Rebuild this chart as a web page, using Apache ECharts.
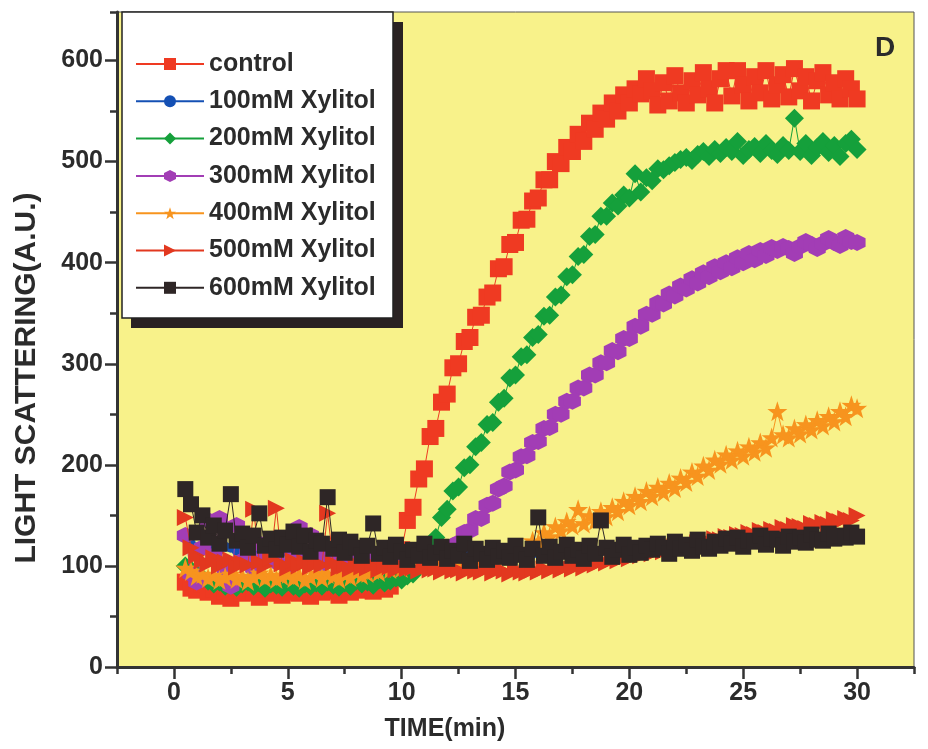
<!DOCTYPE html>
<html><head><meta charset="utf-8">
<script src="https://cdn.jsdelivr.net/npm/echarts@6/dist/echarts.min.js"></script>
<style>html,body{margin:0;padding:0;background:#fff}#c{width:928px;height:749px}</style>
</head><body><div id="c"></div>
<script>
// sample times (min)
const time = [
0.5,0.75,1,1.25, 1.5,1.75,2,2.25, 2.5,2.75,3,3.25, 3.5,3.75,4,4.25, 4.5,4.75,5,5.25,
5.5,5.75,6,6.25, 6.5,6.75,7,7.25, 7.5,7.75,8,8.25, 8.5,8.75,9,9.25, 9.5,9.75,10,10.25,
10.5,10.75,11,11.25, 11.5,11.75,12,12.25, 12.5,12.75,13,13.25, 13.5,13.75,14,14.25, 14.5,14.75,15,15.25,
15.5,15.75,16,16.25, 16.5,16.75,17,17.25, 17.5,17.75,18,18.25, 18.5,18.75,19,19.25, 19.5,19.75,20,20.25,
20.5,20.75,21,21.25, 21.5,21.75,22,22.25, 22.5,22.75,23,23.25, 23.5,23.75,24,24.25, 24.5,24.75,25,25.25,
25.5,25.75,26,26.25, 26.5,26.75,27,27.25, 27.5,27.75,28,28.25, 28.5,28.75,29,29.25, 29.5,29.75,30
];
const seriesNames = ['control','100mM Xylitol','200mM Xylitol','300mM Xylitol','400mM Xylitol','500mM Xylitol','600mM Xylitol'];
const control = [
84,78,76,82, 74,77,70,75, 68,76,73,78, 74,69,77,73, 76,71,74,78,
73,75,70,77, 74,78,75,71, 77,74,79,76, 78,75,80,77, 80,95,116,145,
158,186,196,228, 236,262,270,296, 300,322,326,346, 348,366,370,394, 396,418,420,442,
443,461,464,482, 482,500,498,514, 510,527,520,538, 532,548,542,558, 550,566,558,572,
567,582,570,556, 578,560,585,568, 558,580,566,588, 572,558,582,590, 565,590,576,560,
584,568,590,562, 576,586,564,592, 570,584,560,580, 588,566,578,562, 582,572,562
];
const xyl100 = [
128,122,118,120, 117,121,116,119, 118,115,119,117, 116,118,115,117, 116,114,117,115,
115,117,114,116, 114,116,113,115, 113,115,112,114, 113,114,112,113, 112,113,111,112,
112,111,113,111, 112,110,112,111, 111,112,110,112, 111,110,112,111, 112,110,111,112,
111,112,113,112, 112,113,112,114, 113,114,113,115, 114,115,114,116, 115,116,116,117,
116,117,118,117, 118,119,118,120, 119,120,121,120, 121,122,121,123, 122,123,122,124,
123,124,124,125, 124,126,125,126, 126,127,126,128, 127,128,128,129, 128,129,128
];
const xyl200 = [
100,96,92,88, 85,82,84,80, 83,79,82,84, 80,83,78,82, 81,79,84,80,
78,82,80,83, 80,84,81,79, 83,80,85,82, 84,81,86,83, 85,88,86,90,
92,100,106,122, 128,148,156,174, 178,197,200,218, 222,240,242,262, 266,286,289,307,
309,326,329,347, 348,366,368,386, 388,406,408,426, 428,446,446,459, 456,467,464,488,
470,484,481,493, 492,496,499,502, 504,501,507,510, 505,512,508,514, 510,520,506,512,
515,508,518,511, 507,516,511,543, 510,518,506,514, 520,509,516,505, 518,522,512
];
const xyl300 = [
130,92,84,118, 145,110,147,96, 80,140,105,112, 98,122,108,115, 104,118,100,112,
138,106,130,110, 102,115,108,104, 110,103,112,106, 105,110,104,108, 107,104,109,106,
108,105,110,107, 109,112,115,120, 123,133,135,147, 147,160,162,176, 179,193,195,208,
209,222,223,236, 237,250,250,263, 263,276,276,289, 289,301,301,313, 312,325,325,337,
337,349,349,360, 359,369,367,377, 374,384,380,390, 386,396,391,400, 395,405,400,409,
403,412,407,415, 412,416,414,409, 416,421,418,414, 419,424,420,417, 425,421,420
];
const xyl400 = [
98,95,90,92, 88,91,86,89, 92,87,90,85, 89,93,88,91, 87,90,92,88,
91,86,89,93, 88,92,90,87, 92,89,94,91, 93,96,94,98, 97,100,98,102,
101,99,103,100, 102,105,103,106, 104,107,105,108, 106,109,107,110, 108,111,113,115,
116,125,123,133, 129,139,135,144, 140,156,142,150, 145,154,149,158, 154,164,160,169,
164,174,169,178, 173,182,177,187, 183,193,189,199, 195,205,201,210, 205,214,209,218,
213,222,217,227, 253,230,227,236, 231,240,235,244, 239,248,243,253, 248,259,256
];
const xyl500 = [
148,118,110,105, 102,108,100,104, 106,99,103,101, 156,104,100,107, 157,102,98,105,
100,104,99,103, 101,152,103,98, 100,97,102,99, 98,101,96,100, 99,96,100,97,
98,95,99,96, 97,94,98,95, 96,93,97,95, 94,97,93,96, 95,92,96,94,
93,96,94,97, 95,98,96,99, 97,100,98,102, 101,104,103,106, 105,108,107,110,
110,113,112,115, 114,117,119,118, 121,119,123,125, 124,127,126,129, 128,131,130,133,
131,135,133,136, 134,138,136,140, 139,137,142,140, 143,141,146,144, 147,145,150
];
const xyl600 = [
176,161,133,150, 128,140,122,135, 171,125,132,118, 130,152,120,127, 116,128,121,134,
119,130,114,125, 122,168,117,126, 113,124,118,110, 120,142,112,118, 109,121,114,106,
116,110,122,108, 113,119,107,115, 110,122,105,117, 112,106,118,109, 115,108,120,111,
106,117,148,110, 119,108,114,121, 110,116,107,120, 112,145,118,109, 116,121,111,118,
113,120,116,122, 118,112,124,117, 121,115,126,119, 117,124,120,127, 122,128,119,125,
124,130,121,127, 126,120,129,124, 128,123,131,126, 125,132,127,130, 128,133,129
];
const xTicks = [0,5,10,15,20,25,30];
const yTicks = [0,100,200,300,400,500,600];

const values = [control, xyl100, xyl200, xyl300, xyl400, xyl500, xyl600];
const colors = ['#ef3a22','#1450b4','#15a03b','#a23db5','#f7941e','#e2381f','#2e2626'];
const symbols = ['rect','circle','diamond',
  'path://M50,0 L93.3,25 L93.3,75 L50,100 L6.7,75 L6.7,25 Z',
  'path://M50,0 L61.8,35.1 L97.6,34.5 L69,56.2 L79.4,90.5 L50,70 L20.6,90.5 L31,56.2 L2.4,34.5 L38.2,35.1 Z',
  'triangle','rect'];
const sizes = [17,10,19,17,20,17,16];
const rotates = [0,0,0,0,0,-90,0];

const FONT = "'Liberation Sans', Arial, sans-serif";
const TXT = '#2b2b2b';

const chart = echarts.init(document.getElementById('c'), null, {renderer:'canvas'});
const series = seriesNames.map((n,i)=>({
  name: n, type: 'line',
  data: time.map((t,j)=>[t, values[i][j]]),
  symbol: symbols[i], symbolSize: sizes[i], symbolRotate: rotates[i],
  showAllSymbol: true,
  itemStyle: {color: colors[i]},
  lineStyle: {color: colors[i], width: 1},
  z: 2 + i*0.01
}));

chart.setOption({
  animation: false,
  backgroundColor: '#ffffff',
  grid: {left: 117, right: 14, top: 12, bottom: 82, show: true,
         backgroundColor: '#f8f28a', borderColor: '#555', borderWidth: 1},
  xAxis: [{
    type: 'value', min: -2.5, max: 32.5, position: 'bottom',
    axisLine: {onZero: false, lineStyle: {color: '#333', width: 3}},
    axisTick: {customValues: xTicks, length: 12, lineStyle: {color: '#333', width: 2.5}},
    axisLabel: {customValues: xTicks, margin: 14, color: TXT, fontFamily: FONT, fontWeight: 'bold', fontSize: 25},
    splitLine: {show: false}
  },{
    type: 'value', min: -2.5, max: 32.5, interval: 2.5, position: 'bottom',
    axisLine: {show: false, onZero: false},
    axisTick: {show: true, length: 7, lineStyle: {color: '#333', width: 2.5}},
    axisLabel: {show: false}, splitLine: {show: false}
  }],
  yAxis: [{
    type: 'value', min: 0, max: 648, position: 'left',
    axisLine: {show: true, onZero: false, lineStyle: {color: '#333', width: 3}},
    axisTick: {show: true, customValues: yTicks, length: 12, lineStyle: {color: '#333', width: 2.5}},
    axisLabel: {customValues: yTicks, margin: 14, color: TXT, fontFamily: FONT, fontWeight: 'bold', fontSize: 25},
    splitLine: {show: false}
  },{
    type: 'value', min: 0, max: 648, interval: 50, position: 'left',
    axisLine: {show: false, onZero: false},
    axisTick: {show: true, length: 7, lineStyle: {color: '#333', width: 2.5}},
    axisLabel: {show: false}, splitLine: {show: false}
  }],
  legend: {
    orient: 'vertical', left: 135, top: 51, padding: 0,
    itemWidth: 68, itemHeight: 15, itemGap: 11.3,
    data: seriesNames,
    textStyle: {color: TXT, fontFamily: FONT, fontWeight: 'bold', fontSize: 25, lineHeight: 26},
    z: 20
  },
  graphic: [
    {type: 'rect', z: 10, shape: {x: 131, y: 22, width: 272, height: 306}, style: {fill: '#2a2222'}},
    {type: 'rect', z: 11, shape: {x: 122, y: 12, width: 271, height: 306}, style: {fill: '#ffffff', stroke: '#222', lineWidth: 1.5}},
    {type: 'text', z: 12, x: 885, y: 48, style: {text: 'D', fill: TXT, font: 'bold 28px ' + FONT, textAlign: 'center', textVerticalAlign: 'middle'}},
    {type: 'text', z: 12, x: 445, y: 729, style: {text: 'TIME(min)', fill: TXT, font: 'bold 25px ' + FONT, textAlign: 'center', textVerticalAlign: 'middle'}},
    {type: 'text', z: 12, x: 27, y: 378, rotation: Math.PI/2, style: {text: 'LIGHT SCATTERING(A.U.)', fill: TXT, font: 'bold 30px ' + FONT, textAlign: 'center', textVerticalAlign: 'middle'}}
  ],
  series: series
});
</script>
</body></html>
